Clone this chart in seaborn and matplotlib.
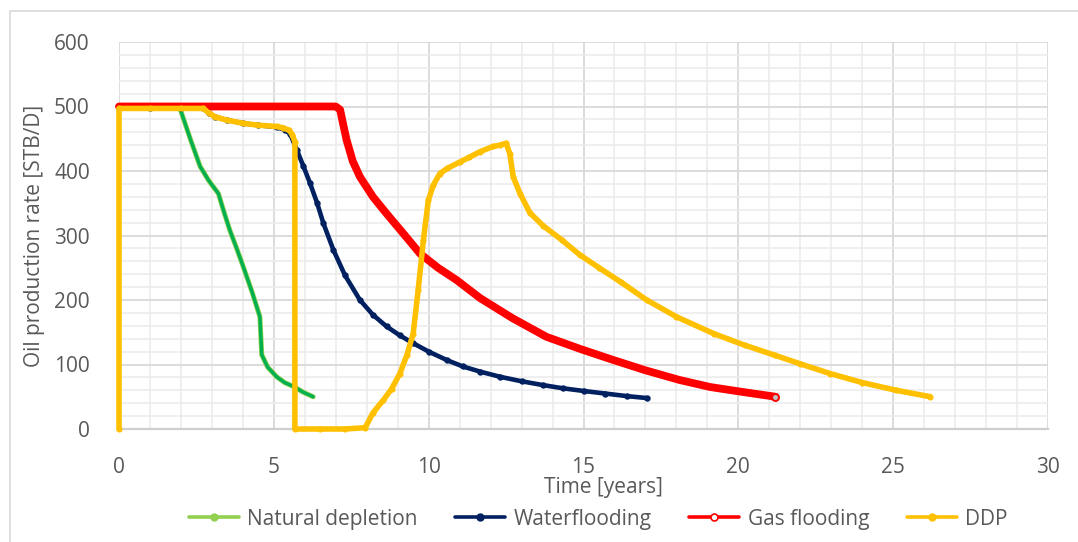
import matplotlib
matplotlib.use("Agg")
import matplotlib.pyplot as plt
import matplotlib.patheffects as pe
from matplotlib.lines import Line2D
from matplotlib.patches import Rectangle
from matplotlib.ticker import MultipleLocator
import seaborn as sns

# ====================== DATA ======================
nd_t = [0, 1.0, 1.97, 2.3, 2.62, 2.9, 3.21, 3.4, 3.58, 3.8, 4.01, 4.3, 4.55, 4.61,
        4.8, 5.09, 5.35, 5.63, 5.95, 6.27]
nd_q = [497, 497, 497, 450, 407, 385, 365, 335, 308, 280, 252, 212, 174, 115,
        96, 81, 72, 66, 57, 50]

wf_t = [0, 1.0, 2.0, 2.72, 2.9, 3.1, 3.48, 4.0, 4.5, 5.09, 5.35, 5.52, 5.74, 5.95,
        6.17, 6.4, 6.6, 6.92, 7.3, 7.78, 8.2, 8.64, 9.07, 9.5, 10.0, 10.58, 11.1,
        11.66, 12.3, 13.0, 13.7, 14.35, 15.0, 15.7, 16.4, 17.04]
wf_q = [497, 497, 497, 497, 490, 484, 479, 474, 471, 468, 464, 458, 433, 408,
        381, 350, 319, 278, 238, 200, 177, 159, 145, 133, 120, 107, 97,
        89, 81, 74, 68, 63, 59, 55, 51, 48]

gf_t = [0, 2.0, 4.0, 6.0, 7.0, 7.14, 7.25, 7.35, 7.55, 7.78, 8.2, 8.64, 9.2, 9.72,
        10.3, 10.9, 11.66, 12.7, 13.8, 14.9, 15.96, 17.0, 18.1, 19.1, 20.2, 21.2]
gf_q = [500, 500, 500, 500, 500, 495, 470, 448, 415, 391, 360, 334, 302, 272,
        250, 231, 203, 172, 143, 124, 107, 91, 76, 65, 57, 50]

ddp_t = [0, 0, 1.0, 2.0, 2.72, 2.9, 3.1, 3.48, 4.0, 4.5, 5.09, 5.3, 5.5, 5.6, 5.68,
         5.68, 6.5, 7.3, 7.95, 8.2, 8.54, 8.8, 9.07, 9.3, 9.5, 9.66, 9.83, 9.99,
         10.15, 10.36, 10.6, 11.01, 11.3, 11.66, 12.08, 12.3, 12.5, 12.62, 12.73,
         12.95, 13.27, 13.7, 14.3, 14.88, 15.5, 16.2, 17.04, 18.0, 19.2, 20.2,
         21.2, 22.0, 22.96, 24.0, 25.1, 26.2]
ddp_q = [0, 497, 497, 497, 497, 490, 484, 479, 474, 471, 469, 467, 463, 456, 445,
         0, 0, 0, 2, 25, 45, 62, 86, 115, 148, 215, 293, 355,
         378, 396, 404, 414, 421, 430, 438, 440, 443, 427, 391,
         365, 335, 315, 293, 270, 250, 228, 200, 174, 148, 130,
         114, 101, 86, 72, 60, 50]

labels = ['Natural depletion', 'Waterflooding', 'Gas flooding', 'DDP']
x_ticks = [0, 5, 10, 15, 20, 25, 30]
y_ticks = [0, 100, 200, 300, 400, 500, 600]

GREEN, LGREEN, NAVY, RED, GOLD = '#00B050', '#92D050', '#002060', '#FF0000', '#FFC000'
TXT = '#595959'

# ====================== STYLE ======================
sns.set_theme(style='white')
plt.rcParams['font.family'] = ['Open Sans', 'DejaVu Sans']
plt.rcParams['font.size'] = 15

fig = plt.figure(figsize=(10.78, 5.42), dpi=100)
ax = fig.add_axes([119 / 1078, 1 - 429 / 542, (1048 - 119) / 1078, (429 - 42) / 542])

# ====================== SERIES ======================
sns.lineplot(x=nd_t, y=nd_q, ax=ax, sort=False, estimator=None, color=GREEN, lw=2.4,
             solid_joinstyle='round', solid_capstyle='round', clip_on=False, zorder=3,
             path_effects=[pe.Stroke(linewidth=3.6, foreground=LGREEN, capstyle='round',
                                     joinstyle='round'), pe.Normal()])
sns.lineplot(x=wf_t, y=wf_q, ax=ax, sort=False, estimator=None, color=NAVY, lw=3.3,
             marker='o', ms=4.6, mfc=NAVY, mec=NAVY, mew=0, clip_on=False, zorder=3,
             solid_joinstyle='round', solid_capstyle='round')
sns.lineplot(x=gf_t, y=gf_q, ax=ax, sort=False, estimator=None, color=RED, lw=5.6,
             marker='o', ms=5, mfc='#BFBFBF', mec=RED, mew=1.4, clip_on=False, zorder=3,
             markevery=[len(gf_t) - 1], solid_joinstyle='round', solid_capstyle='round')
sns.lineplot(x=ddp_t, y=ddp_q, ax=ax, sort=False, estimator=None, color=GOLD, lw=4.0,
             marker='o', ms=4.4, mfc=GOLD, mec=GOLD, mew=0, clip_on=False, zorder=3,
             solid_joinstyle='round', solid_capstyle='round')

# ====================== AXES ======================
ax.set_xlim(0, 30)
ax.set_ylim(0, 600)
ax.set_xticks(x_ticks)
ax.set_yticks(y_ticks)
ax.xaxis.set_minor_locator(MultipleLocator(1))
ax.yaxis.set_minor_locator(MultipleLocator(20))
ax.grid(which='major', color='#D9D9D9', lw=1.3)
ax.grid(which='minor', color='#EBEBEB', lw=1.1)
ax.set_axisbelow(True)
for s in ['top', 'right', 'left']:
    ax.spines[s].set_visible(False)
ax.spines['bottom'].set_color('#CFCFCF')
ax.spines['bottom'].set_linewidth(1.6)
ax.spines['bottom'].set_zorder(1)
ax.tick_params(axis='both', which='both', length=0, colors=TXT, labelsize=15)
ax.tick_params(axis='x', pad=20)
ax.tick_params(axis='y', pad=21)

ax.set_xlabel('Time [years]', color=TXT, fontsize=15)
ax.set_ylabel('Oil production rate [STB/D]', color=TXT, fontsize=15)
ax.xaxis.set_label_coords(0.521, -0.125)
ax.yaxis.set_label_coords(-0.08, 0.5)

# ====================== LEGEND ======================
handles = [
    Line2D([], [], color=LGREEN, lw=2.6, marker='o', ms=5, mfc=LGREEN, mec=LGREEN),
    Line2D([], [], color=NAVY, lw=2.6, marker='o', ms=5, mfc=NAVY, mec=NAVY),
    Line2D([], [], color=RED, lw=2.6, marker='o', ms=5, mfc='white', mec=RED, mew=1.2),
    Line2D([], [], color=GOLD, lw=2.6, marker='o', ms=5, mfc=GOLD, mec=GOLD),
]
leg = fig.legend(handles, labels, loc='center', bbox_to_anchor=(0.555, 0.042), ncol=4,
                 frameon=False, fontsize=15, handlelength=2.4, handletextpad=0.4,
                 columnspacing=1.8, labelcolor=TXT)

# chart area border
fig.add_artist(Rectangle((10 / 1078, -0.1), 1.2, 1.1 - 11 / 542, transform=fig.transFigure,
                         fill=False, ec='#D9D9D9', lw=1.2))

plt.savefig('out.png', dpi=100, facecolor='white')
plt.close()
